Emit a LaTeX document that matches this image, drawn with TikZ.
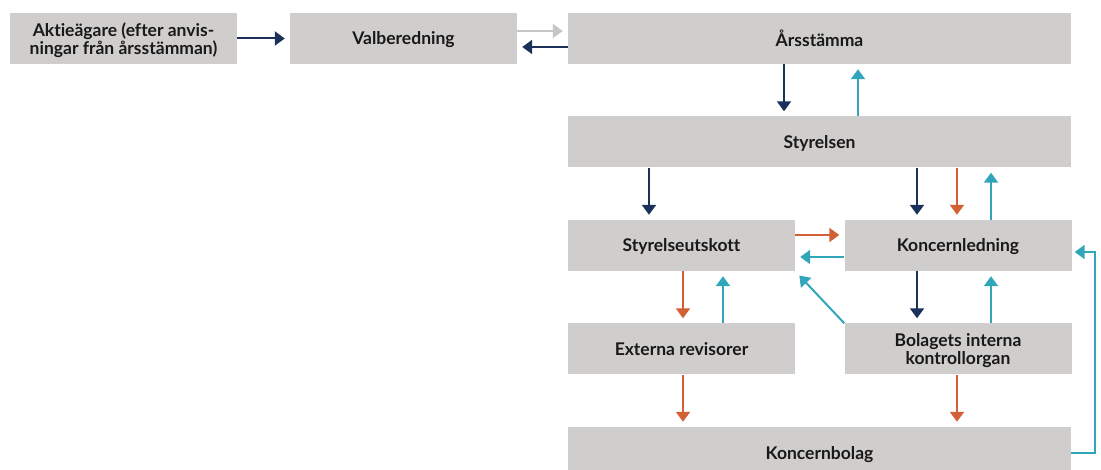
\documentclass[tikz,border=0pt]{standalone}
\usepackage{fontspec}
\setmainfont{Lato}[Ligatures=NoCommon]
\usetikzlibrary{arrows.meta}
\definecolor{boxgray}{HTML}{D0CECC}
\definecolor{navy}{HTML}{1B3159}
\definecolor{cyanc}{HTML}{31A6BA}
\definecolor{orangec}{HTML}{D35F35}
\definecolor{lgray}{HTML}{C6C6C6}
\begin{document}
\begin{tikzpicture}[x=1pt,y=-1pt,
  box/.style={fill=boxgray,inner sep=0pt,align=center,text depth=0pt,font=\fontsize{17.5}{18}\selectfont\bfseries,text=black!90},
  narrow/.style={box,minimum width=227pt,minimum height=51pt},
  wide/.style={box,minimum width=503pt,minimum height=51pt},
  arr/.style={line width=2pt,-{Triangle[width=14pt,length=10pt]},shorten >=5pt},
  nv/.style={arr,draw=navy},
  cy/.style={arr,draw=cyanc},
  og/.style={arr,draw=orangec},
  lg/.style={arr,draw=lgray}]
\useasboundingbox (0,0) rectangle (1101,470);
\node[narrow] (akt) at (123.5,38.5) {Aktieägare (efter anvis-\\ningar från årsstämman)};
\node[narrow] (val) at (403.5,38.5) {Valberedning};
\node[wide] (ars) at (819.5,38.5) {Årsstämma};
\node[wide] (sty) at (819.5,142) {Styrelsen};
\node[narrow] (ut) at (681.5,245.5) {Styrelseutskott};
\node[narrow] (kl) at (958,245.5) {Koncernledning};
\node[narrow] (ext) at (681.5,349) {Externa revisorer};
\node[narrow] (bol) at (958,349) {Bolagets interna\\kontrollorgan};
\node[wide] (kb) at (819.5,452.5) {Koncernbolag};
% column / row helpers
\coordinate (c649) at (649,0);
\coordinate (c683) at (683,0);
\coordinate (c723) at (723,0);
\coordinate (c784) at (784,0);
\coordinate (c858) at (858,0);
\coordinate (c917) at (917,0);
\coordinate (c957) at (957,0);
\coordinate (c991) at (991,0);
\coordinate (r31) at (0,31);
\coordinate (r47) at (0,47);
\coordinate (r235) at (0,235);
\coordinate (r257) at (0,257);
\coordinate (r252) at (0,252);
\coordinate (r453) at (0,453);
\coordinate (cR) at (1095,0);
% top row
\draw[nv] (akt.east) -- (val.west);
\draw[lg] (val.east |- r31) -- (ars.west |- r31);
\draw[nv] (ars.west |- r47) -- (val.east |- r47);
% Årsstämma <-> Styrelsen
\draw[nv] (ars.south -| c784) -- (sty.north -| c784);
\draw[cy] (sty.north -| c858) -- (ars.south -| c858);
% Styrelsen -> below
\draw[nv] (sty.south -| c649) -- (ut.north -| c649);
\draw[nv] (sty.south -| c917) -- (kl.north -| c917);
\draw[og] (sty.south -| c957) -- (kl.north -| c957);
\draw[cy] (kl.north -| c991) -- (sty.south -| c991);
% Styrelseutskott <-> Koncernledning
\draw[og] (ut.east |- r235) -- (kl.west |- r235);
\draw[cy] (kl.west |- r257) -- (ut.east |- r257);
% Styrelseutskott <-> Externa
\draw[og] (ut.south -| c683) -- (ext.north -| c683);
\draw[cy] (ext.north -| c723) -- (ut.south -| c723);
% Koncernledning <-> Bolagets
\draw[nv] (kl.south -| c917) -- (bol.north -| c917);
\draw[cy] (bol.north -| c991) -- (kl.south -| c991);
% diagonal
\draw[cy,shorten >=6pt] (bol.north west) -- (ut.south east);
% to Koncernbolag
\draw[og] (ext.south -| c683) -- (kb.north -| c683);
\draw[og] (bol.south -| c957) -- (kb.north -| c957);
% return loop
\draw[cy,shorten >=3pt] (kb.east |- r453) -- (cR |- r453) -- (cR |- r252) -- (kl.east |- r252);
\end{tikzpicture}
\end{document}
